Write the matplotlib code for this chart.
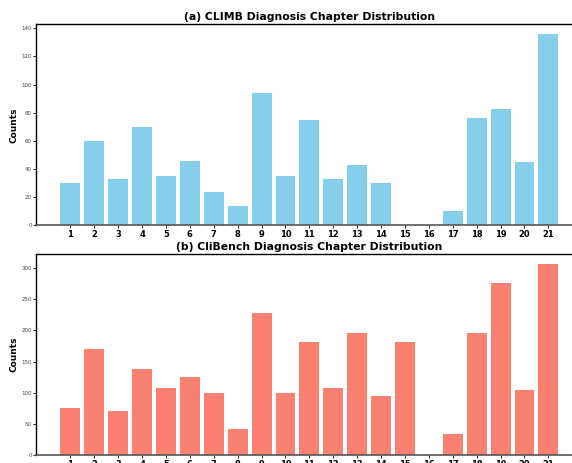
import matplotlib
matplotlib.use("Agg")
import matplotlib.pyplot as plt

plt.rcParams["font.family"] = ["DejaVu Sans"]

# chapter numbers
chapters = list(range(1, 22))

# (a) CLIMB counts per chapter
climb_counts = [30, 60, 33, 70, 35, 46, 24, 14, 94, 35,
                75, 33, 43, 30, 0, 0, 10, 76, 83, 45, 136]

# (b) CliBench counts per chapter
clibench_counts = [76, 170, 71, 139, 108, 125, 99, 42, 228, 100,
                   182, 107, 196, 95, 181, 1, 34, 196, 276, 105, 307]

fig = plt.figure(figsize=(5.72, 4.63), dpi=100)
ax1 = fig.add_axes([0.0629, 0.513, 0.956, 0.4345])
ax2 = fig.add_axes([0.0629, 0.0166, 0.956, 0.4348])

panels = [
    (ax1, climb_counts, "skyblue", "(a) CLIMB Diagnosis Chapter Distribution"),
    (ax2, clibench_counts, "salmon", "(b) CliBench Diagnosis Chapter Distribution"),
]

for ax, counts, color, title in panels:
    ax.bar(chapters, counts, width=0.83, color=color)
    ax.set_xlim(-0.44, 22.44)
    ax.set_xticks(chapters)
    ax.set_xticklabels([str(c) for c in chapters], fontsize=6, fontweight="bold")
    ax.set_title(title, fontsize=7.8, fontweight="bold", pad=3)
    ax.set_ylabel("Counts", fontsize=6.5, fontweight="bold", labelpad=2)
    ax.tick_params(axis="y", labelsize=4, length=2, width=0.6, pad=1, labelcolor="#444444")
    ax.tick_params(axis="x", length=2, width=0.6, pad=1.5)
    ax.spines["right"].set_visible(False)
    ax.spines["bottom"].set_color("#555555")
    ax.spines["bottom"].set_linewidth(1.2)
    ax.spines["left"].set_linewidth(1.0)
    ax.spines["top"].set_linewidth(1.0)

ax1.set_yticks(range(0, 141, 20))
ax2.set_yticks(range(0, 301, 50))

fig.savefig("out.png", dpi=100)
